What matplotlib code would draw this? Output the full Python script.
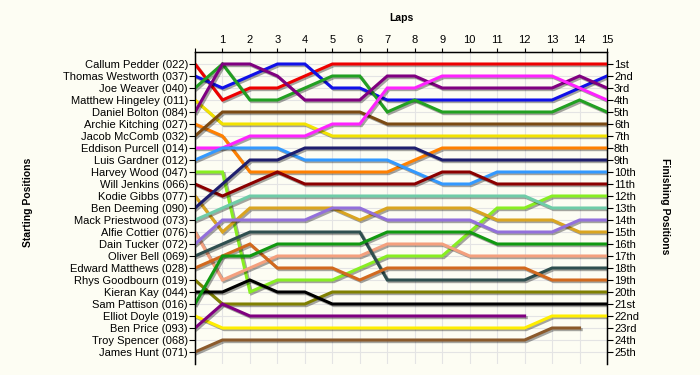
import matplotlib
matplotlib.use("Agg")
import matplotlib.pyplot as plt
import matplotlib.patheffects as pe


laps = list(range(16))

starters = [
    "Callum Pedder (022)", "Thomas Westworth (037)", "Joe Weaver (040)",
    "Matthew Hingeley (011)", "Daniel Bolton (084)", "Archie Kitching (027)",
    "Jacob McComb (032)", "Eddison Purcell (014)", "Luis Gardner (012)",
    "Harvey Wood (047)", "Will Jenkins (066)", "Kodie Gibbs (077)",
    "Ben Deeming (090)", "Mack Priestwood (073)", "Alfie Cottier (076)",
    "Dain Tucker (072)", "Oliver Bell (069)", "Edward Matthews (028)",
    "Rhys Goodbourn (019)", "Kieran Kay (044)", "Sam Pattison (016)",
    "Elliot Doyle (019)", "Ben Price (093)", "Troy Spencer (068)",
    "James Hunt (071)",
]

finish_labels = [
    "1st", "2nd", "3rd", "4th", "5th", "6th", "7th", "8th", "9th", "10th",
    "11th", "12th", "13th", "14th", "15th", "16th", "17th", "18th", "19th",
    "20th", "21st", "22nd", "23rd", "24th", "25th",
]

# position at the end of each lap (lap 0 = grid)
callum_pedder = [1, 4, 3, 3, 2, 1, 1, 1, 1, 1, 1, 1, 1, 1, 1, 1]
thomas_westworth = [2, 3, 2, 1, 1, 3, 3, 4, 4, 4, 4, 4, 4, 4, 3, 2]
joe_weaver = [3, 1, 4, 4, 3, 2, 2, 5, 4, 5, 5, 5, 5, 5, 4, 5]
matthew_hingeley = [4, 6, 6, 6, 6, 7, 7, 7, 7, 7, 7, 7, 7, 7, 7, 7]
daniel_bolton = [5, 1, 1, 2, 4, 4, 4, 2, 2, 3, 3, 3, 3, 3, 2, 3]
archie_kitching = [6, 7, 10, 10, 10, 10, 10, 10, 9, 8, 8, 8, 8, 8, 8, 8]
jacob_mccomb = [7, 5, 5, 5, 5, 5, 5, 6, 6, 6, 6, 6, 6, 6, 6, 6]
eddison_purcell = [8, 8, 7, 7, 7, 6, 6, 3, 3, 2, 2, 2, 2, 2, 3, 4]
luis_gardner = [9, 8, 8, 8, 9, 9, 9, 9, 10, 11, 11, 10, 10, 10, 10, 10]
harvey_wood = [10, 10, 20, 19, 19, 19, 18, 17, 17, 17, 15, 13, 13, 12, 12, 12]
will_jenkins = [11, 12, 11, 10, 11, 11, 11, 11, 11, 10, 10, 11, 11, 11, 11, 11]
kodie_gibbs = [12, 15, 13, 13, 13, 13, 14, 13, 13, 13, 13, 14, 14, 14, 15, 15]
ben_deeming = [13, 11, 9, 9, 8, 8, 8, 8, 8, 9, 9, 9, 9, 9, 9, 9]
mack_priestwood = [14, 13, 12, 12, 12, 12, 12, 12, 12, 12, 12, 12, 12, 13, 13, 13]
alfie_cottier = [15, 19, 18, 17, 17, 17, 17, 16, 16, 16, 17, 17, 17, 17, 17, 17]
dain_tucker = [16, 14, 14, 14, 14, 13, 13, 14, 14, 14, 14, 15, 15, 15, 14, 14]
oliver_bell = [17, 16, 15, 15, 15, 15, 15, 19, 19, 19, 19, 19, 19, 18, 18, 18]
edward_matthews = [18, 17, 16, 18, 18, 18, 19, 18, 18, 18, 18, 18, 18, 19, 19, 19]
rhys_goodbourn = [19, 21, 21, 21, 21, 20, 20, 20, 20, 20, 20, 20, 20, 20, 20, 20]
kieran_kay = [20, 20, 19, 20, 20, 21, 21, 21, 21, 21, 21, 21, 21, 21, 21, 21]
sam_pattison = [21, 17, 17, 16, 16, 16, 16, 15, 15, 15, 15, 16, 16, 16, 16, 16]
elliot_doyle = [22, 23, 23, 23, 23, 23, 23, 23, 23, 23, 23, 23, 23, 22, 22, 22]
ben_price = [23, 21, 22, 22, 22, 22, 22, 22, 22, 22, 22, 22, 22]
troy_spencer = []
james_hunt = [25, 24, 24, 24, 24, 24, 24, 24, 24, 24, 24, 24, 24, 23, 23]

drivers = [
    callum_pedder, thomas_westworth, joe_weaver, matthew_hingeley,
    daniel_bolton, archie_kitching, jacob_mccomb, eddison_purcell,
    luis_gardner, harvey_wood, will_jenkins, kodie_gibbs, ben_deeming,
    mack_priestwood, alfie_cottier, dain_tucker, oliver_bell,
    edward_matthews, rhys_goodbourn, kieran_kay, sam_pattison,
    elliot_doyle, ben_price, troy_spencer, james_hunt,
]

colors = [
    "#ee0000", "#1010e8", "#22a022", "#f2e200", "#800080", "#ff8000",
    "#7a4a14", "#ff22ff", "#3399ff", "#88ee22", "#8b0000", "#daa520",
    "#1e1e6e", "#6fcca8", "#f4a07e", "#9370db", "#2f4f4f", "#d2691e",
    "#808000", "#000000", "#119911", "#ffee00", "#800080", "#999999",
    "#8b5a2b",
]

bg = "#fdfdf3"
fig = plt.figure(figsize=(7, 3.75), dpi=100, facecolor=bg)
ax = fig.add_axes([195 / 700, 11 / 375, 412 / 700, 312 / 375], facecolor=bg)

shadow = [pe.SimpleLineShadow(offset=(1.2, -1.2), shadow_color="#000000", alpha=0.35),
          pe.Normal()]
for pos, col in zip(drivers, colors):
    if not pos:
        continue
    ax.plot(laps[:len(pos)], pos, color=col, linewidth=2.2,
            solid_joinstyle="miter", path_effects=shadow, zorder=3)

ax.set_xlim(0, 15)
ax.set_ylim(26, 0)
ax.xaxis.tick_top()
ax.set_xticks(laps)
ax.set_xticklabels([""] + [str(l) for l in laps[1:]], fontsize=8,
                   family="Liberation Sans")
ax.set_yticks(range(1, 26))
ax.set_yticklabels(starters, fontsize=8, family="Liberation Sans")
ax.tick_params(axis="x", length=3, width=0.8, pad=2)
ax.tick_params(axis="y", length=4, width=0.8, pad=1)
ax.grid(True, color="#e4e4e4", linewidth=0.8, zorder=0)
ax.set_axisbelow(True)
ax.spines["bottom"].set_visible(False)
for s in ["left", "top", "right"]:
    ax.spines[s].set_linewidth(1.0)

ax2 = ax.twinx()
ax2.set_ylim(26, 0)
ax2.set_yticks(range(1, 26))
ax2.set_yticklabels(finish_labels, fontsize=8, family="Liberation Sans")
ax2.tick_params(axis="y", length=4, width=0.8, pad=1)
ax2.spines["bottom"].set_visible(False)

fig.text(401 / 700, 1 - 18 / 375, "Laps", ha="center", va="center",
         fontsize=7.5, fontweight="bold", family="Liberation Sans")
fig.text(28 / 700, 1 - 202 / 375, "Starting Positions", ha="center", va="center",
         rotation=90, fontsize=7.5, fontweight="bold", family="Liberation Sans")
fig.text(665 / 700, 1 - 206 / 375, "Finishing Positions", ha="center", va="center",
         rotation=270, fontsize=7.5, fontweight="bold", family="Liberation Sans")

fig.savefig("out.png", dpi=100, facecolor=bg)
